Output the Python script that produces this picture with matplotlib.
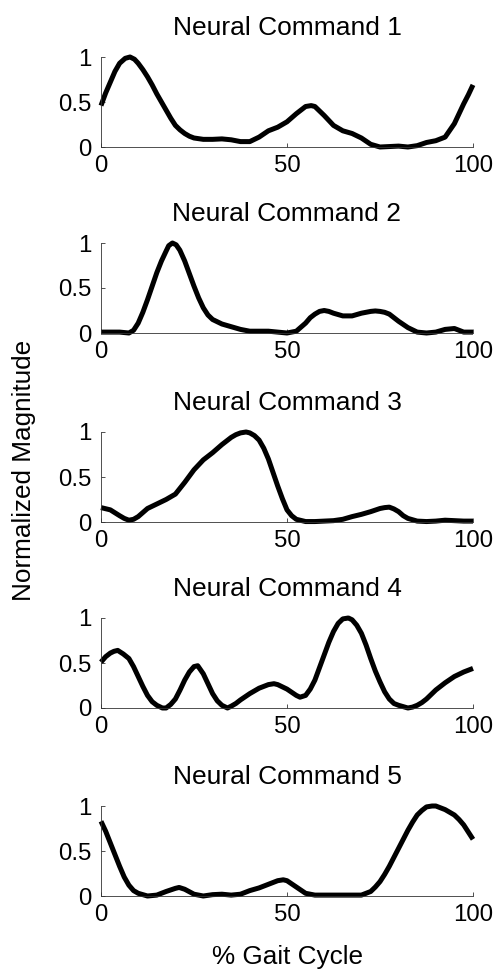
import matplotlib
matplotlib.use("Agg")
import matplotlib.pyplot as plt

plt.rcParams['font.family'] = ['Liberation Sans', 'DejaVu Sans']

titles = ["Neural Command 1", "Neural Command 2", "Neural Command 3",
          "Neural Command 4", "Neural Command 5"]
xticks = [0, 50, 100]
yticks = [0, 0.5, 1]
ytick_labels = ["0", "0.5", "1"]
xlabel = "% Gait Cycle"
ylabel = "Normalized Magnitude"

x1 = [0, 1.25, 2.5, 3.75, 5, 6.5, 7.8, 9, 10, 11.25, 12.5, 13.75, 15, 16.25, 17.5, 18.75,
      20, 21.25, 22.5, 23.75, 25, 27.5, 30, 32.5, 35, 37.5, 40, 42.5, 45, 47.5, 50, 52.5,
      55, 56.5, 57.5, 58.75, 60, 62.5, 65, 67.5, 70, 72.5, 75, 77.5, 80, 82.5, 85, 87.5,
      90, 92.5, 95, 96.25, 97.5, 98.75, 100]
y1 = [0.46, 0.60, 0.72, 0.84, 0.93, 0.985, 1.0, 0.975, 0.93, 0.86, 0.78, 0.69, 0.59, 0.50,
      0.41, 0.32, 0.24, 0.19, 0.15, 0.12, 0.10, 0.085, 0.085, 0.09, 0.08, 0.06, 0.06, 0.11,
      0.18, 0.22, 0.28, 0.37, 0.45, 0.46, 0.45, 0.40, 0.35, 0.24, 0.18, 0.15, 0.10, 0.03,
      0.0, 0.005, 0.01, 0.0, 0.015, 0.05, 0.07, 0.11, 0.26, 0.37, 0.48, 0.58, 0.69]

x2 = [0, 2.5, 5, 7.5, 8.75, 10, 11.25, 12.5, 13.75, 15, 16.25, 17.5, 18.2, 19.2, 20.2,
      21.2, 22.5, 23.75, 25, 26.25, 27.5, 28.75, 30, 32.5, 35, 37.5, 40, 42.5, 45, 47.5,
      50, 52.5, 55, 56.25, 57.5, 58.75, 60, 61.25, 62.5, 65, 67.5, 70, 72.5, 73.75, 75,
      76.25, 77.5, 80, 82.5, 85, 87.5, 90, 92.5, 95, 97.5, 100]
y2 = [0.01, 0.01, 0.01, 0.0, 0.03, 0.11, 0.23, 0.37, 0.52, 0.67, 0.80, 0.91, 0.97, 1.0,
      0.98, 0.92, 0.80, 0.66, 0.52, 0.39, 0.28, 0.20, 0.15, 0.10, 0.07, 0.04, 0.02, 0.02,
      0.02, 0.01, 0.0, 0.02, 0.11, 0.17, 0.21, 0.24, 0.25, 0.24, 0.22, 0.19, 0.19, 0.22,
      0.24, 0.245, 0.24, 0.23, 0.21, 0.13, 0.06, 0.01, 0.0, 0.01, 0.04, 0.05, 0.01, 0.01]

x3 = [0, 2.5, 5, 6.25, 7.5, 8.75, 10, 12.5, 15, 17.5, 20, 22.5, 25, 27.5, 30, 32.5, 35,
      36.25, 37.5, 39, 40, 41.25, 42.5, 43.75, 45, 46.25, 47.5, 48.75, 50, 51.25, 52.5,
      55, 57.5, 60, 62.5, 65, 67.5, 70, 72.5, 75, 76.25, 77.5, 78.75, 80, 81.25, 82.5,
      85, 87.5, 90, 92.5, 95, 97.5, 100]
y3 = [0.16, 0.135, 0.07, 0.04, 0.02, 0.03, 0.06, 0.15, 0.20, 0.25, 0.31, 0.44, 0.58,
      0.69, 0.77, 0.86, 0.94, 0.97, 0.99, 1.0, 0.99, 0.96, 0.91, 0.82, 0.70, 0.55, 0.40,
      0.26, 0.135, 0.07, 0.03, 0.005, 0.005, 0.01, 0.015, 0.03, 0.06, 0.085, 0.115, 0.15,
      0.16, 0.165, 0.145, 0.115, 0.07, 0.04, 0.01, 0.005, 0.01, 0.02, 0.015, 0.01, 0.01]

x4 = [0, 1.25, 2.5, 3.5, 4.5, 6, 7.5, 8.75, 10, 11.25, 12.5, 13.75, 15, 16.5, 17.5, 18.75,
      20, 21.25, 22.5, 23.75, 25, 26, 27.5, 28.75, 30, 31.25, 32.5, 34, 35, 36.25, 37.5,
      40, 42.5, 45, 46.5, 47.5, 50, 52.5, 53.5, 55, 56.25, 57.5, 58.75, 60, 61.25, 62.5,
      63.75, 65, 66.5, 67.5, 68.75, 70, 71.25, 72.5, 73.75, 75, 76.25, 77.5, 78.75, 80,
      82.5, 83.75, 85, 86.25, 87.5, 88.75, 90, 92.5, 95, 97.5, 100]
y4 = [0.51, 0.57, 0.61, 0.63, 0.64, 0.60, 0.55, 0.46, 0.35, 0.24, 0.14, 0.07, 0.03, 0.0,
      0.0, 0.04, 0.10, 0.20, 0.31, 0.40, 0.46, 0.47, 0.38, 0.27, 0.16, 0.08, 0.03, 0.0,
      0.02, 0.05, 0.09, 0.16, 0.22, 0.26, 0.27, 0.26, 0.21, 0.14, 0.12, 0.14, 0.21, 0.31,
      0.45, 0.59, 0.73, 0.85, 0.94, 0.99, 1.0, 0.98, 0.92, 0.83, 0.70, 0.55, 0.41, 0.29,
      0.18, 0.10, 0.05, 0.03, 0.0, 0.01, 0.03, 0.06, 0.10, 0.15, 0.20, 0.28, 0.35, 0.40,
      0.44]

x5 = [0, 1.25, 2.5, 3.75, 5, 6.25, 7.5, 8.75, 10, 12.5, 15, 17.5, 20, 21, 22.5, 25, 27.5,
      30, 32.5, 35, 37.5, 40, 42.5, 45, 47.5, 49, 50, 52.5, 55, 57.5, 60, 62.5, 65, 67.5,
      70, 72.5, 73.75, 75, 76.25, 77.5, 78.75, 80, 81.25, 82.5, 83.75, 85, 86.25, 87.5,
      89, 90, 92.5, 93.75, 95, 96.25, 97.5, 98.75, 100]
y5 = [0.83, 0.72, 0.59, 0.46, 0.33, 0.21, 0.12, 0.06, 0.03, 0.0, 0.01, 0.05, 0.085, 0.095,
      0.075, 0.02, 0.0, 0.015, 0.02, 0.01, 0.02, 0.06, 0.09, 0.13, 0.17, 0.18, 0.17, 0.10,
      0.03, 0.01, 0.01, 0.01, 0.01, 0.01, 0.01, 0.05, 0.10, 0.16, 0.24, 0.33, 0.43, 0.53,
      0.63, 0.73, 0.82, 0.90, 0.95, 0.99, 1.0, 1.0, 0.96, 0.93, 0.90, 0.85, 0.79, 0.71,
      0.63]

xs = [x1, x2, x3, x4, x5]
ys = [y1, y2, y3, y4, y5]

W, H = 499, 971
fig = plt.figure(figsize=(W / 100, H / 100), dpi=100)

left_px, right_px = 101, 473
tops_px = [57, 243, 432, 618, 806]
height_px = 90

for i in range(5):
    top = tops_px[i]
    ax = fig.add_axes([left_px / W, 1 - (top + height_px) / H,
                       (right_px - left_px) / W, height_px / H])
    ax.plot(xs[i], ys[i], color='black', lw=3.6, solid_capstyle='butt',
            solid_joinstyle='round', clip_on=False)
    ax.set_xlim(0, 100)
    ax.set_ylim(0, 1)
    ax.set_xticks(xticks)
    ax.set_xticklabels([str(t) for t in xticks])
    ax.set_yticks(yticks)
    ax.set_yticklabels(ytick_labels)
    for s in ['top', 'right']:
        ax.spines[s].set_visible(False)
    for s in ['left', 'bottom']:
        ax.spines[s].set_linewidth(0.6)
        ax.spines[s].set_color('#333333')
    ax.tick_params(direction='in', length=3, width=0.6, colors='#333333',
                   labelcolor='black', labelsize=17.3)
    ax.tick_params(axis='x', pad=6)
    ax.tick_params(axis='y', pad=7)
    ax.set_title(titles[i], fontsize=19, pad=16)
    ax.patch.set_alpha(0)

fig.text(24 / W, 1 - 470 / H, ylabel, rotation=90, ha='center', va='center', fontsize=18.8)
fig.text(287 / W, 1 - 957 / H, xlabel, ha='center', va='center', fontsize=18.8)

fig.savefig("out.png", dpi=100, facecolor='white')
